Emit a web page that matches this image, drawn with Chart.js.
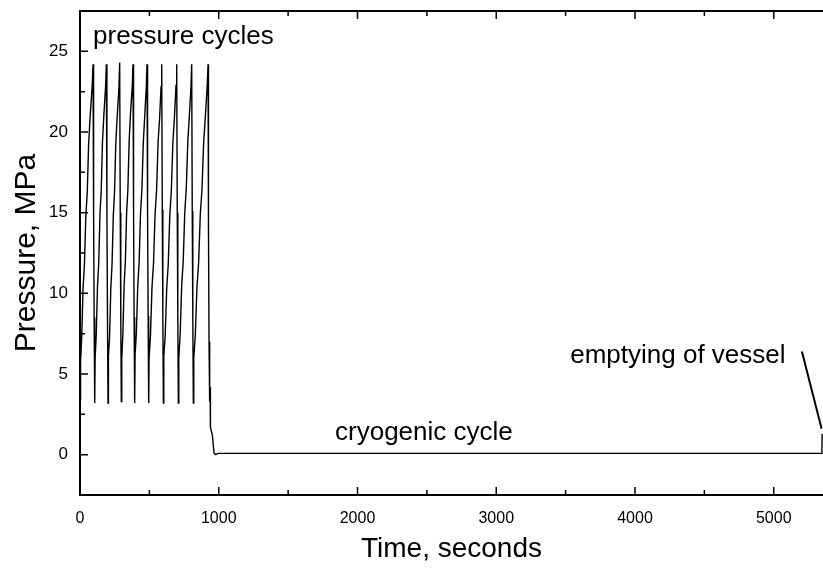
<!DOCTYPE html>
<html>
<head>
<meta charset="utf-8">
<script src="https://cdn.jsdelivr.net/npm/chart.js@4"></script>
<style>
  html, body { margin: 0; padding: 0; background: #fff; }
</style>
</head>
<body>
<canvas id="myChart" width="823" height="571"></canvas>
<script>
// time in seconds, pressure in MPa
var timeSec = [
  0, 4, 12, 22, 32, 42, 52, 62, 72, 88, 94, 98, 102,
  106, 109, 117, 126, 135, 144, 153, 162, 171, 185, 190, 194, 198,
  202, 205, 213, 222, 231, 240, 249, 258, 267, 281, 286, 290, 294,
  298, 301, 309, 318, 327, 336, 345, 354, 363, 377, 382, 386, 390,
  394, 397, 406, 416, 426, 436, 446, 456, 466, 478, 483, 487, 491,
  495, 498, 508, 519, 530, 541, 552, 563, 574, 584, 589, 593, 597,
  601, 604, 614, 625, 636, 647, 658, 669, 680, 692, 697, 701, 705,
  709, 712, 722, 733, 744, 755, 766, 777, 788, 800, 805, 809, 813,
  817, 820, 831, 843, 855, 867, 879, 891, 903, 917, 923, 926, 930,
  933, 936, 938, 940, 954, 966, 978, 995, 5347, 5349
];
var pressureMPa = [
  3.4, 5.8, 7.2, 10.3, 11.8, 14.8, 16.2, 19.2, 20.8, 22.9, 24.2, 15.0, 8.5,
  3.2, 6.0, 7.4, 10.4, 11.9, 14.9, 16.4, 19.4, 20.9, 22.9, 24.2, 15.2, 8.6,
  3.2, 6.1, 7.3, 10.3, 11.8, 14.8, 16.3, 19.3, 20.8, 22.8, 24.3, 15.0, 8.4,
  3.3, 6.0, 7.5, 10.5, 12.0, 15.0, 16.4, 19.4, 21.0, 22.9, 24.2, 15.1, 8.5,
  3.2, 6.2, 7.5, 10.4, 11.9, 14.9, 16.4, 19.3, 20.9, 22.8, 24.2, 15.0, 8.6,
  3.2, 6.0, 7.4, 10.4, 11.9, 14.9, 16.4, 19.4, 20.9, 22.8, 24.2, 15.2, 8.6,
  3.2, 6.1, 7.4, 10.3, 11.8, 14.8, 16.3, 19.3, 20.8, 22.9, 24.2, 15.0, 8.4,
  3.2, 6.0, 7.5, 10.5, 12.0, 15.0, 16.5, 19.4, 21.0, 22.8, 24.2, 15.1, 8.5,
  3.2, 6.0, 7.4, 10.4, 11.9, 14.9, 16.4, 19.3, 20.9, 22.9, 24.2, 14.0, 7.0,
  4.2, 3.3, 4.2, 1.7, 1.2, 0.1, 0.0, 0.08, 0.08, 1.3
];
var xTicks = [0, 1000, 2000, 3000, 4000, 5000];
var yTicks = [0, 5, 10, 15, 20, 25];

var FONT = "'Liberation Sans', Arial, sans-serif";

// inward tick marks + frame + annotations
var framePlugin = {
  id: 'frame',
  afterDraw: function(chart) {
    var c = chart.ctx, a = chart.chartArea;
    var xs = chart.scales.x, ys = chart.scales.y;
    var xHalf = (xTicks[1] - xTicks[0]) / 2, yHalf = (yTicks[1] - yTicks[0]) / 2;
    c.save();
    c.strokeStyle = '#000';
    c.lineWidth = 2;
    c.beginPath();
    c.moveTo(a.right + 2, a.top);
    c.lineTo(a.left, a.top);
    c.lineTo(a.left, a.bottom);
    c.lineTo(a.right + 2, a.bottom);
    c.stroke();

    c.lineWidth = 1.5;
    c.beginPath();
    xs.ticks.forEach(function(t) {
      var px = xs.getPixelForValue(t.value);
      c.moveTo(px, a.bottom); c.lineTo(px, a.bottom - 8);
      c.moveTo(px, a.top); c.lineTo(px, a.top + 8);
      var m = t.value + xHalf;
      if (m < xs.max) {
        var pm = xs.getPixelForValue(m);
        c.moveTo(pm, a.bottom); c.lineTo(pm, a.bottom - 5);
        c.moveTo(pm, a.top); c.lineTo(pm, a.top + 5);
      }
    });
    ys.ticks.forEach(function(t) {
      var py = ys.getPixelForValue(t.value);
      c.moveTo(a.left, py); c.lineTo(a.left + 8, py);
      [t.value - yHalf, t.value + yHalf].forEach(function(m) {
        if (m > ys.min && m < ys.max) {
          var pm = ys.getPixelForValue(m);
          c.moveTo(a.left, pm); c.lineTo(a.left + 5, pm);
        }
      });
    });
    c.stroke();

    // annotation texts
    c.fillStyle = '#000';
    c.font = '26px ' + FONT;
    c.textBaseline = 'middle';
    c.textAlign = 'left';
    c.fillText('pressure cycles', xs.getPixelForValue(94), ys.getPixelForValue(25.9));
    c.fillText('cryogenic cycle', xs.getPixelForValue(1838), ys.getPixelForValue(1.35));
    c.fillText('emptying of vessel', xs.getPixelForValue(3533), ys.getPixelForValue(6.1));

    // pointer line
    c.lineWidth = 2;
    c.beginPath();
    c.moveTo(xs.getPixelForValue(5203), ys.getPixelForValue(6.4));
    c.lineTo(xs.getPixelForValue(5345), ys.getPixelForValue(1.6));
    c.stroke();
    c.restore();
  }
};

var ctx = document.getElementById('myChart').getContext('2d');

var graphData = {
  type: 'line',
  data: {
    datasets: [{
      label: 'Pressure',
      data: timeSec.map(function(t, i) { return {x: t, y: pressureMPa[i]}; }),
      borderColor: '#000',
      borderWidth: 1.4,
      pointRadius: 0,
      tension: 0,
      fill: false
    }]
  },
  options: {
    responsive: false,
    animation: false,
    layout: { padding: { top: 11, right: 0, left: 0, bottom: 0 } },
    plugins: {
      legend: { display: false },
      tooltip: { enabled: false }
    },
    scales: {
      x: {
        type: 'linear',
        min: 0,
        max: 5355,
        grid: { display: false },
        border: { display: false },
        afterBuildTicks: function(s) {
          s.ticks = xTicks.map(function(v) { return {value: v}; });
        },
        ticks: {
          maxRotation: 0,
          autoSkip: false,
          padding: 6,
          color: '#000',
          font: { family: FONT, size: 16 },
          callback: function(v) { return String(v); }
        },
        title: {
          display: true,
          text: 'Time, seconds',
          color: '#000',
          font: { family: FONT, size: 28 },
          padding: { top: 0, bottom: 5 }
        },
        afterFit: function(s) {
          s.height = 76;
          s.paddingLeft = 0; s.paddingRight = 0;
        }
      },
      y: {
        min: -2.5,
        max: 27.5,
        grid: { display: false },
        border: { display: false },
        afterBuildTicks: function(s) {
          s.ticks = yTicks.map(function(v) { return {value: v}; });
        },
        ticks: {
          autoSkip: false,
          padding: 4,
          color: '#000',
          font: { family: FONT, size: 17 },
          callback: function(v) { return String(v); }
        },
        title: {
          display: true,
          text: 'Pressure, MPa',
          color: '#000',
          font: { family: FONT, size: 30 },
          padding: { top: 9, bottom: 0 }
        },
        afterFit: function(s) {
          s.width = 80;
          s.paddingTop = 0; s.paddingBottom = 0;
        }
      }
    }
  },
  plugins: [framePlugin]
};

var myChart = new Chart(ctx, graphData);
</script>
</body>
</html>
